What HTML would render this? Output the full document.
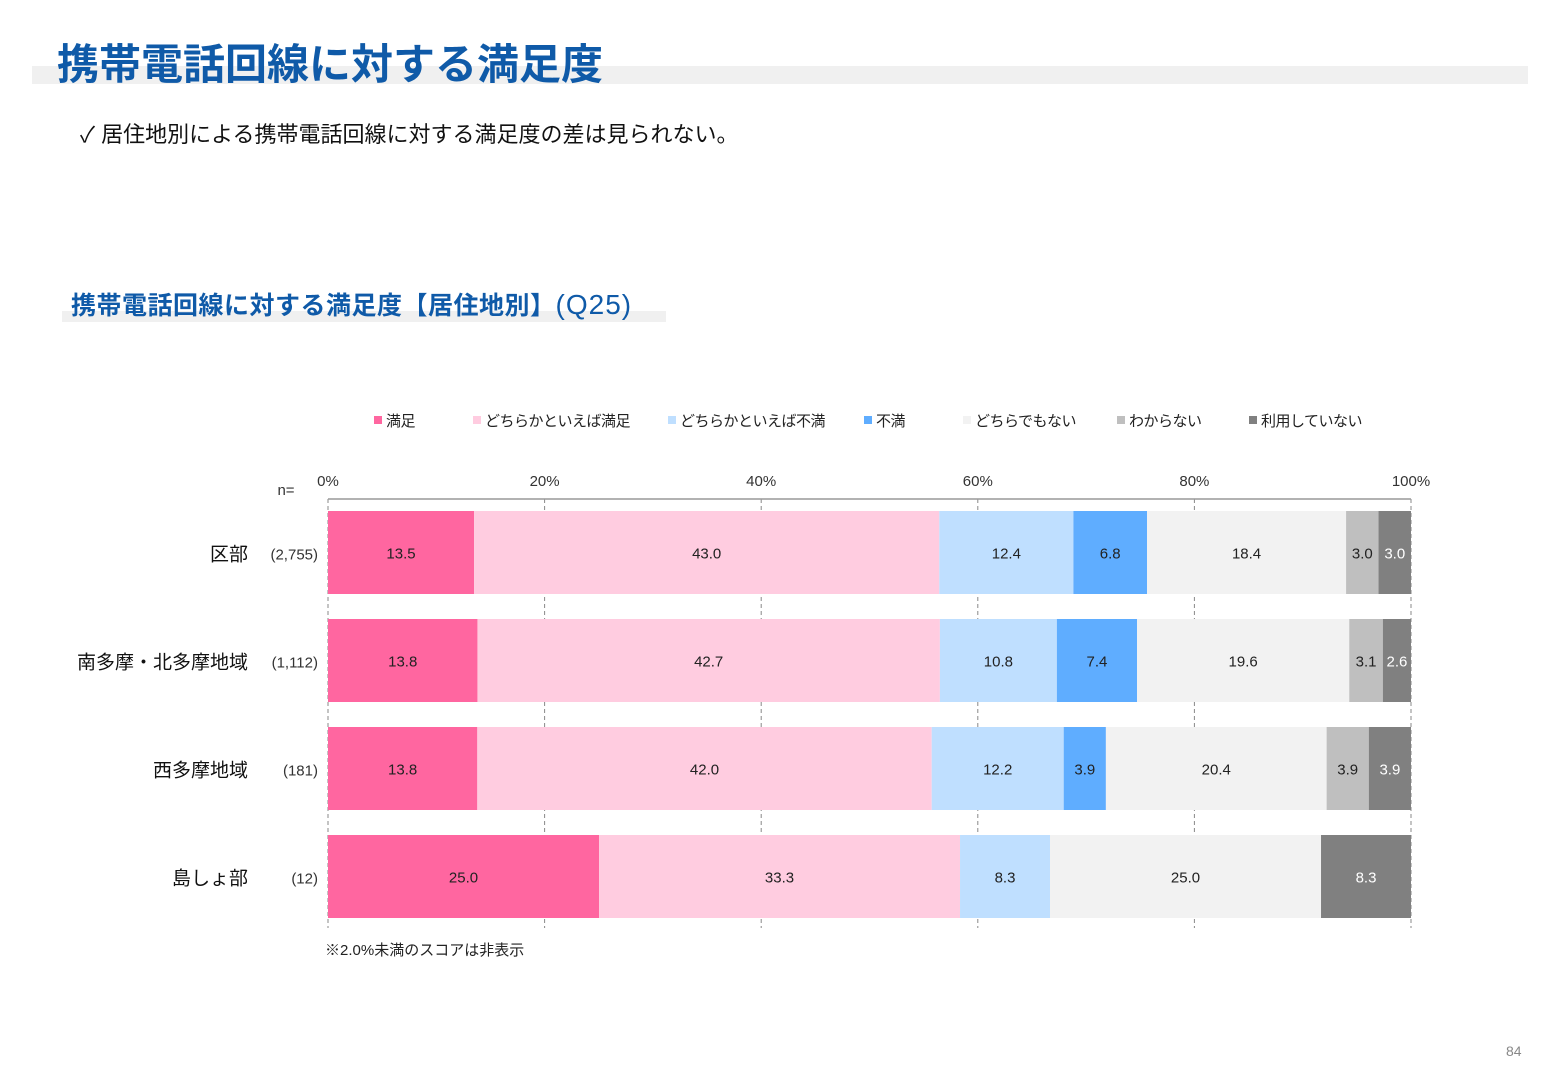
<!DOCTYPE html>
<html><head><meta charset="utf-8"><style>
body{margin:0;width:1560px;height:1080px;background:#fff;font-family:"Liberation Sans","Noto Sans CJK JP",sans-serif;position:relative;overflow:hidden}
.abs{position:absolute;white-space:nowrap}
</style></head><body>
<div class="abs" style="left:32px;top:66px;width:1496px;height:18px;background:#f0f0f0"></div>
<div class="abs" style="left:57px;top:31px;font-size:42px;font-weight:bold;color:#0f5aa8;letter-spacing:0px">携帯電話回線に対する満足度</div>
<div class="abs" style="left:80px;top:117px;font-size:22px;color:#111">✓ 居住地別による携帯電話回線に対する満足度の差は見られない。</div>
<div class="abs" style="left:62px;top:311px;width:604px;height:11px;background:#f0f0f0"></div>
<div class="abs" style="left:71px;top:286px;font-size:25px;font-weight:bold;color:#0f5aa8;letter-spacing:0.5px">携帯電話回線に対する満足度【居住地別】<span style="font-weight:normal;font-size:28px;letter-spacing:1px">(Q25)</span></div>
<div class="abs" style="left:1506px;top:1043px;font-size:14px;color:#888">84</div>
<svg id="chart" width="1560" height="1080" style="position:absolute;left:0;top:0" font-family="Liberation Sans, Noto Sans CJK JP, sans-serif"></svg>
<script>
const categories=["区部","南多摩・北多摩地域","西多摩地域","島しょ部"];
const nValues=["(2,755)","(1,112)","(181)","(12)"];
const seriesNames=["満足","どちらかといえば満足","どちらかといえば不満","不満","どちらでもない","わからない","利用していない"];
const s1=[13.5,13.8,13.8,25.0];
const s2=[43.0,42.7,42.0,33.3];
const s3=[12.4,10.8,12.2,8.3];
const s4=[6.8,7.4,3.9,0];
const s5=[18.4,19.6,20.4,25.0];
const s6=[3.0,3.1,3.9,0];
const s7=[3.0,2.6,3.9,8.3];
const ticks=[0,20,40,60,80,100];
const colors=["#ff66a0","#ffcce0","#bfdfff","#5fadff","#f2f2f2","#bfbfbf","#808080"];
const textColors=["#222","#222","#222","#222","#222","#222","#fff"];
const series=[s1,s2,s3,s4,s5,s6,s7];
const svg=document.getElementById('chart');
const NS="http://www.w3.org/2000/svg";
const X0=328,X1=1411,Y0=511,PITCH=108,BH=83;
const xs=v=>X0+(X1-X0)*v/100;
function mk(t,a){const e=document.createElementNS(NS,t);for(const k in a)e.setAttribute(k,a[k]);svg.appendChild(e);return e;}
ticks.forEach((t,i)=>{
 const l=mk('line',{x1:xs(t),x2:xs(t),y1:499,y2:928,stroke:'#888','stroke-dasharray':'4,3'});
 
 
 const tx=mk('text',{x:xs(t),y:486,'font-size':15,fill:'#333','text-anchor':'middle'});
 tx.textContent=t+'%';
 
 
});
const ax=mk('line',{x1:X0,x2:X1,y1:499,y2:499,stroke:'#999','stroke-width':1.5});


const nl=mk('text',{x:286,y:495,'font-size':15,fill:'#333','text-anchor':'middle'});
nl.textContent='n=';


categories.forEach((c,r)=>{
 const y=Y0+r*PITCH;
 const tot=series.reduce((a,s)=>a+s[r],0);
 let acc=0;
 series.forEach((s,k)=>{
  const v=s[r];
  if(v<=0)return;
  const xa=xs(acc/tot*100),xb=xs((acc+v)/tot*100);
  const rc=mk('rect',{x:xa,y:y,width:xb-xa,height:BH,fill:colors[k]});
  
  
  if(v>=2){
   const t=mk('text',{x:(xa+xb)/2,y:y+BH/2+6,'font-size':15,fill:textColors[k],'text-anchor':'middle'});
   t.textContent=v.toFixed(1);
   
   
  }
  acc+=v;
 });
 const cl=mk('text',{x:248,y:y+BH/2+8,'font-size':19,fill:'#111','text-anchor':'end'});
 cl.textContent=c;
 
 
 const nn=mk('text',{x:318,y:y+BH/2+7,'font-size':15,fill:'#333','text-anchor':'end'});
 nn.textContent=nValues[r];
 
 
});
const lx=[374,473,668,864,963,1117,1249];
seriesNames.forEach((n,k)=>{
 const r=mk('rect',{x:lx[k],y:416,width:8,height:8,fill:colors[k]});
 
 
 const t=mk('text',{x:lx[k]+12,y:426,'font-size':15,fill:'#222','letter-spacing':'-0.5'});
 t.textContent=n;
 
 
});
const note=mk('text',{x:325,y:955,'font-size':15,fill:'#222'});
note.textContent='※2.0%未満のスコアは非表示';


</script>
</body></html>
